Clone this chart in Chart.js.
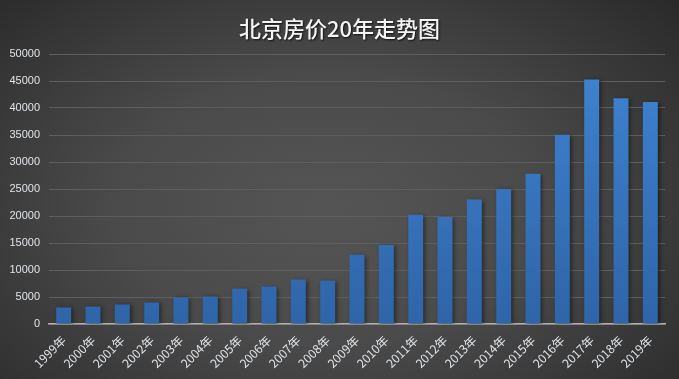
<!DOCTYPE html>
<html>
<head>
<meta charset="utf-8">
<script src="https://cdn.jsdelivr.net/npm/chart.js@4"></script>
<style>
html,body{margin:0;padding:0;}
body{width:679px;height:379px;overflow:hidden;
background:radial-gradient(ellipse 70% 80% at 48% 55%, #555555 0%, #4a4a4a 45%, #333333 85%, #2a2a2a 100%);}
#wrap{width:679px;height:379px;position:relative;}
</style>
</head>
<body>
<div id="wrap"><canvas id="c" width="679" height="379"></canvas></div>
<script>
const chartTitle = "北京房价20年走势图";
const categories = ["1999年","2000年","2001年","2002年","2003年","2004年","2005年","2006年","2007年","2008年","2009年","2010年","2011年","2012年","2013年","2014年","2015年","2016年","2017年","2018年","2019年"];
const prices = [3060,3250,3620,3990,4920,5100,6570,6940,8240,8050,12830,14630,20240,19870,23050,25000,27830,35050,45300,41800,41100];
const yTicks = {min:0, max:50000, step:5000};

const titlePlugin = {
  id:'customTitle',
  afterDraw(chart){
    const ctx = chart.ctx;
    ctx.save();
    ctx.font = '500 22px "Noto Sans CJK SC"';
    ctx.textAlign = 'center';
    ctx.textBaseline = 'middle';
    ctx.shadowColor = 'rgba(0,0,0,0.75)';
    ctx.shadowBlur = 2;
    ctx.shadowOffsetX = 1;
    ctx.shadowOffsetY = 1;
    ctx.fillStyle = '#f4f4f4';
    ctx.fillText(chartTitle, chart.width/2, 29);
    ctx.restore();
  }
};
const shadowPlugin = {
  id:'barShadow',
  beforeDatasetsDraw(chart){
    const ctx = chart.ctx;
    ctx.save();
    ctx.shadowColor = 'rgba(0,0,0,0.45)';
    ctx.shadowBlur = 4;
    ctx.shadowOffsetX = 2;
    ctx.shadowOffsetY = 1;
  },
  afterDatasetsDraw(chart){ chart.ctx.restore(); }
};

new Chart(document.getElementById('c'), {
  type:'bar',
  data:{
    labels:categories,
    datasets:[{
      data:prices,
      backgroundColor(context){
        const ch = context.chart;
        const area = ch.chartArea;
        if(!area) return '#3a78c4';
        const el = context.element;
        const top = el && el.y !== undefined ? el.y : area.top;
        const bottom = area.bottom;
        if (!(bottom > top)) return '#3a78c4';
        const g = ch.ctx.createLinearGradient(0, top, 0, bottom);
        g.addColorStop(0,'#3f84d2');
        g.addColorStop(1,'#2f64a8');
        return g;
      },
      borderWidth:0,
      barPercentage:0.51,
      categoryPercentage:1
    }]
  },
  options:{
    responsive:false,
    animation:false,
    devicePixelRatio:1,
    layout:{padding:{top:54,right:14,left:0,bottom:0}},
    plugins:{legend:{display:false},title:{display:false},tooltip:{enabled:false}},
    scales:{
      x:{
        grid:{display:false},
        border:{display:true,color:'#b0b0b0',width:1.5},
        ticks:{color:'#dfe4ea',font:{family:'"Noto Sans CJK SC", "DejaVu Sans"',size:12},minRotation:45,maxRotation:45,autoSkip:false,padding:1},
        afterFit(s){ s.height = 55; }
      },
      y:{
        min:yTicks.min, max:yTicks.max,
        grid:{color:'#5e5e5e',lineWidth:1,drawTicks:false},
        border:{display:false},
        ticks:{stepSize:yTicks.step,color:'#dfe4ea',font:{family:'"Liberation Sans", "DejaVu Sans"',size:11},padding:9,
          callback:(v)=>String(v)},
        afterFit(s){ s.width = 49; }
      }
    }
  },
  plugins:[titlePlugin, shadowPlugin]
});
</script>
</body>
</html>
